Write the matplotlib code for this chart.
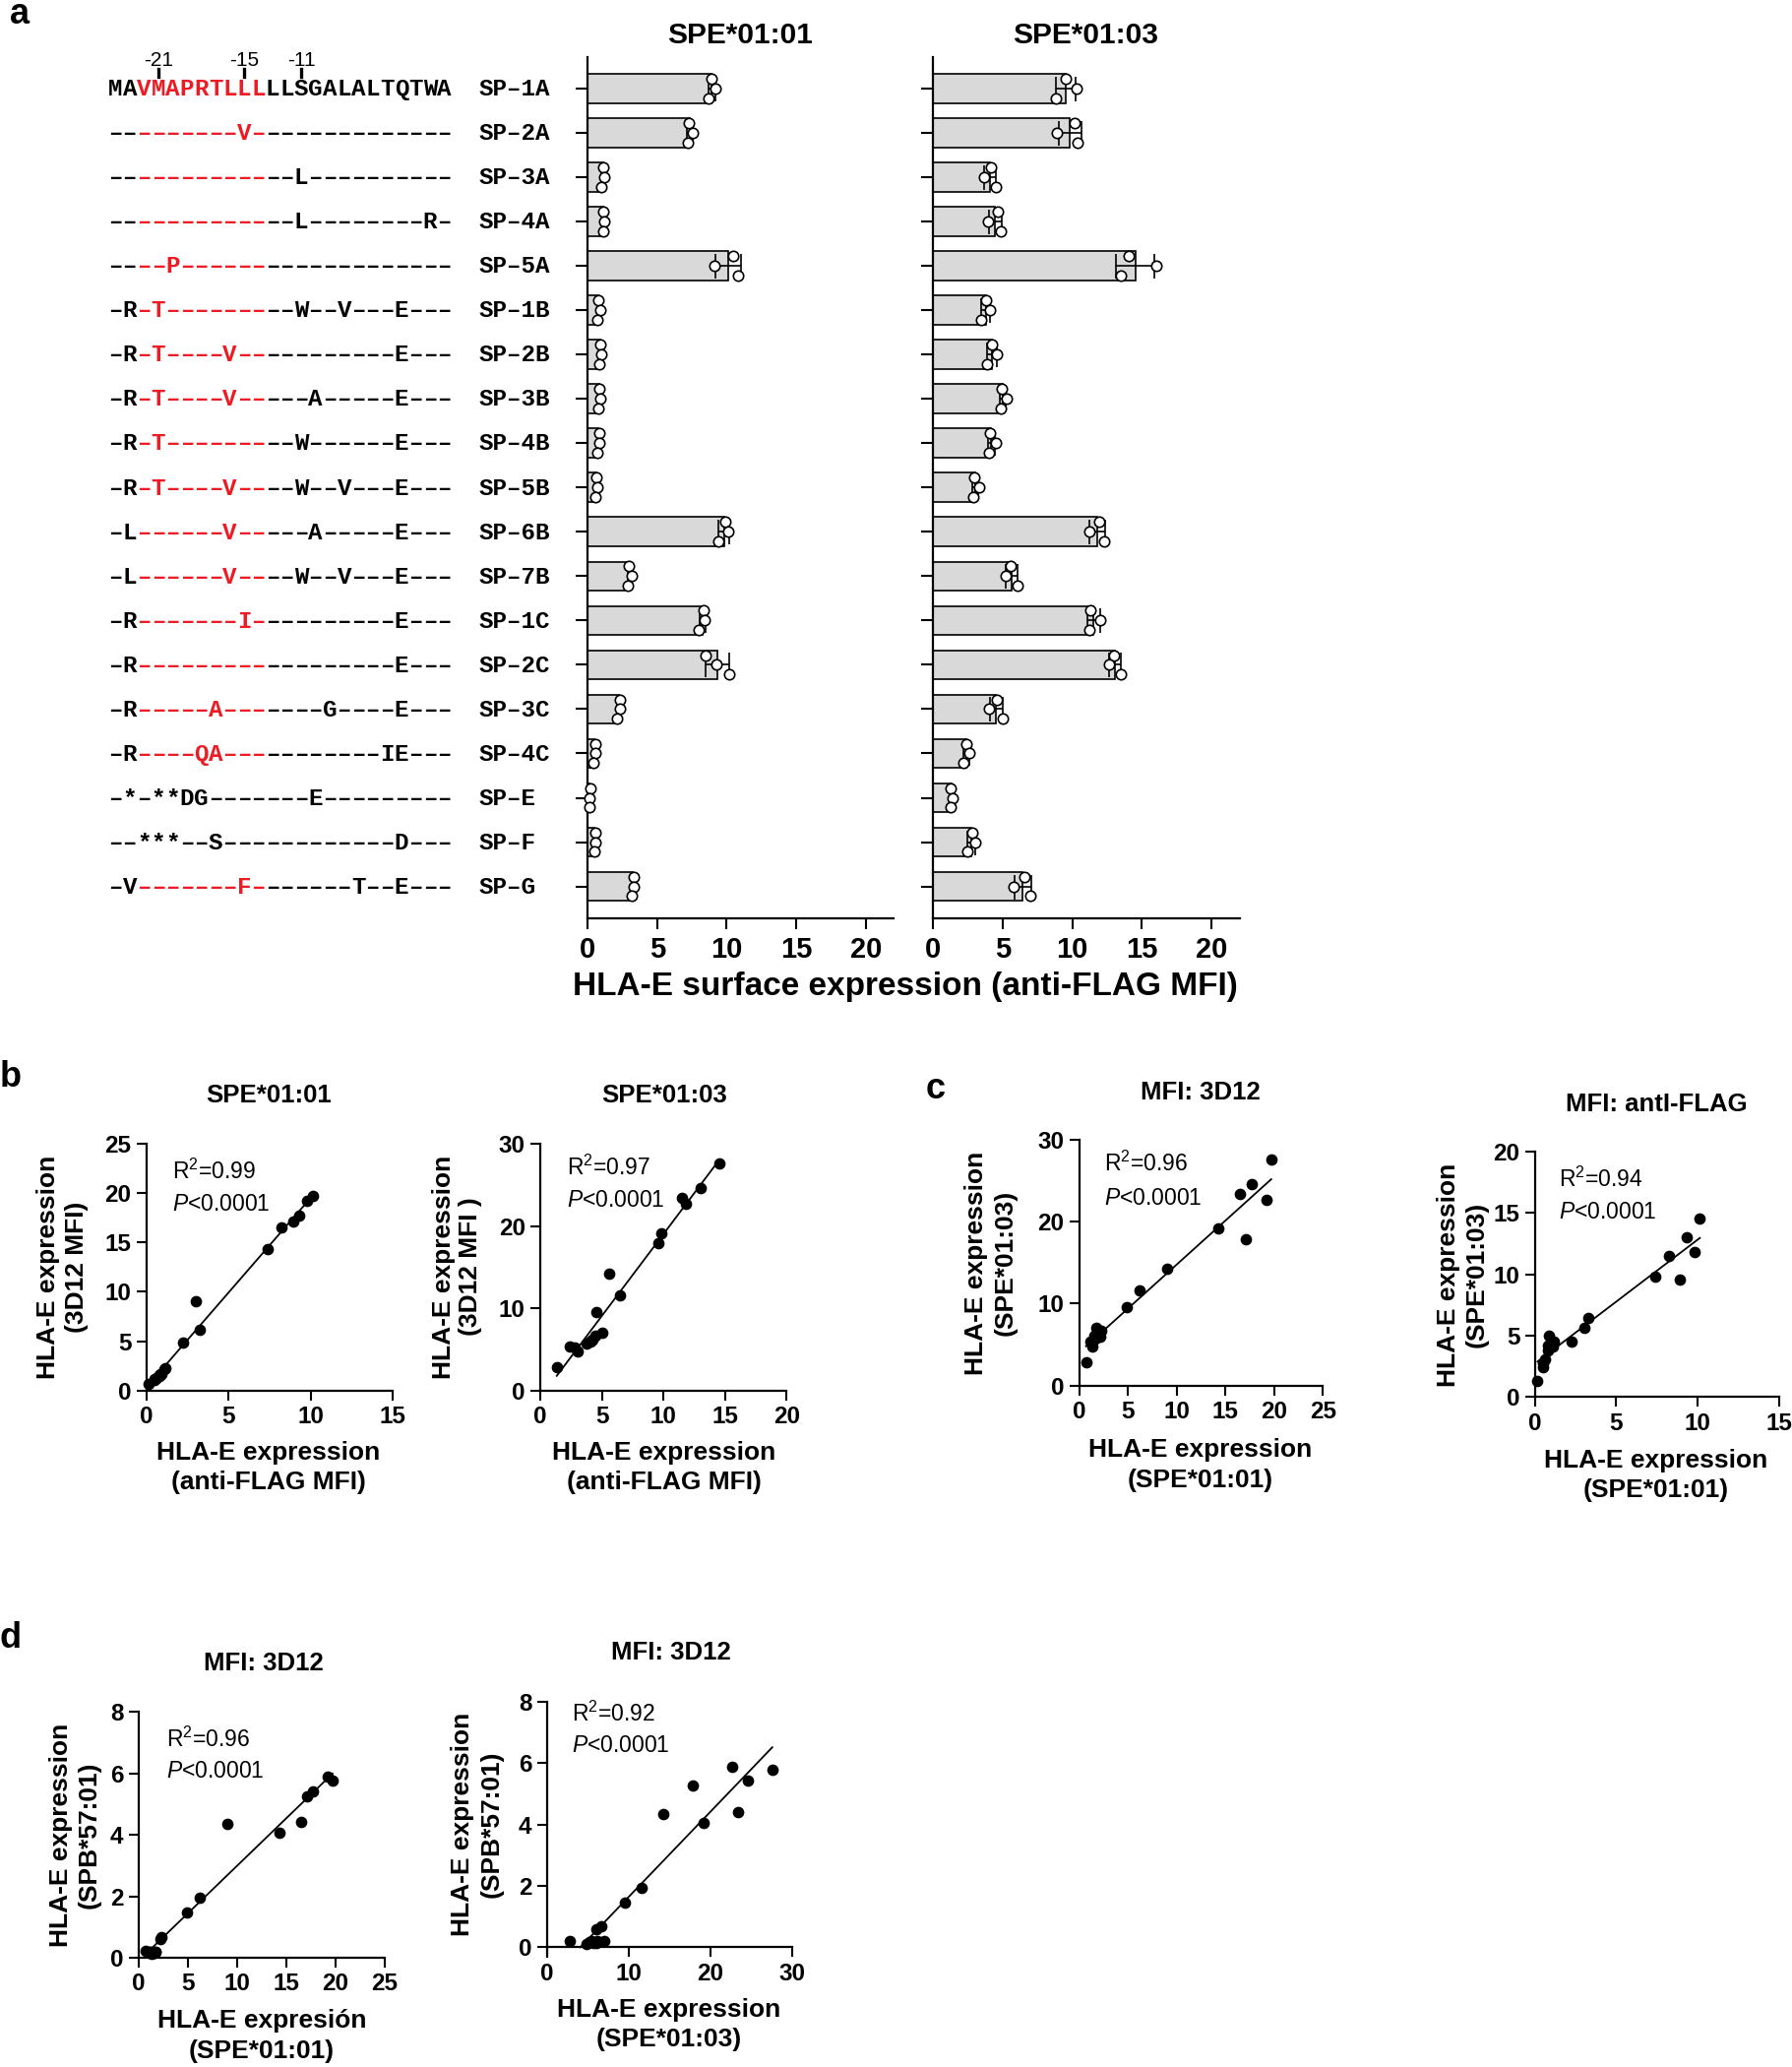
import matplotlib
matplotlib.use('Agg')
import matplotlib.pyplot as plt
import numpy as np

plt.rcParams['font.family'] = ['Liberation Sans', 'DejaVu Sans']
plt.rcParams['mathtext.fontset'] = 'custom'
plt.rcParams['mathtext.rm'] = 'Liberation Sans'
plt.rcParams['mathtext.it'] = 'Liberation Sans:italic'
plt.rcParams['mathtext.bf'] = 'Liberation Sans:bold'

# ---------------- data ----------------
constructs = ['SP–1A', 'SP–2A', 'SP–3A', 'SP–4A', 'SP–5A', 'SP–1B', 'SP–2B', 'SP–3B',
              'SP–4B', 'SP–5B', 'SP–6B', 'SP–7B', 'SP–1C', 'SP–2C', 'SP–3C', 'SP–4C',
              'SP–E', 'SP–F', 'SP–G']

sequences = [
    'MAVMAPRTLLLLLSGALALTQTWA',
    '---------V--------------',
    '-------------L----------',
    '-------------L--------R-',
    '----P-------------------',
    '-R-T---------W--V---E---',
    '-R-T----V-----------E---',
    '-R-T----V-----A-----E---',
    '-R-T---------W------E---',
    '-R-T----V----W--V---E---',
    '-L------V-----A-----E---',
    '-L------V----W--V---E---',
    '-R-------I----------E---',
    '-R------------------E---',
    '-R-----A-------G----E---',
    '-R----QA-----------IE---',
    '-*-**DG-------E---------',
    '--***--S------------D---',
    '-V-------F-------T--E---',
]
red_region = [True] * 16 + [False, False, True]
position_marks = ['-21', '-15', '-11']
position_index = [3, 9, 13]

# anti-FLAG MFI, SPE*01:01 (bar means and three replicates)
flag_0101_mean = [8.93, 7.37, 1.10, 1.15, 10.13, 0.80, 0.93, 0.84, 0.80, 0.65,
                  9.80, 3.03, 8.25, 9.32, 2.25, 0.52, 0.17, 0.53, 3.28]
flag_0101_reps = [[8.9, 9.2, 8.7], [7.3, 7.6, 7.2], [1.1, 1.2, 1.0], [1.15, 1.2, 1.1],
                  [10.5, 9.1, 10.8], [0.8, 0.9, 0.7], [0.95, 1.0, 0.85], [0.82, 0.94, 0.75],
                  [0.82, 0.87, 0.7], [0.66, 0.7, 0.59], [9.9, 10.1, 9.4], [3.0, 3.2, 2.9],
                  [8.35, 8.4, 8.0], [8.47, 9.3, 10.2], [2.3, 2.35, 2.1], [0.55, 0.55, 0.45],
                  [0.2, 0.15, 0.15], [0.55, 0.55, 0.48], [3.3, 3.35, 3.2]]
# anti-FLAG MFI, SPE*01:03
flag_0103_mean = [9.55, 9.83, 4.11, 4.48, 14.52, 3.78, 4.22, 5.02, 4.19, 3.05,
                  11.80, 5.62, 11.52, 13.04, 4.55, 2.40, 1.34, 2.76, 6.45]
flag_0103_reps = [[9.5, 10.3, 8.86], [10.2, 8.9, 10.4], [4.18, 3.66, 4.49], [4.65, 3.94, 4.84],
                  [14.05, 16.06, 13.46], [3.78, 4.08, 3.49], [4.25, 4.56, 3.85], [4.96, 5.27, 4.84],
                  [4.08, 4.49, 4.01], [2.95, 3.31, 2.88], [11.92, 11.2, 12.28], [5.55, 5.24, 6.07],
                  [11.29, 12.04, 11.22], [13.03, 12.63, 13.46], [4.6, 4.06, 5.0], [2.43, 2.6, 2.17],
                  [1.3, 1.42, 1.3], [2.79, 3.02, 2.48], [6.54, 5.79, 7.01]]
# 3D12 MFI
d12_0101 = [17.1, 14.3, 2.2, 2.3, 19.7, 1.6, 1.7, 1.7, 1.5, 1.3,
            19.2, 9.0, 16.5, 17.7, 4.9, 1.1, 0.7, 1.2, 6.2]
d12_0103 = [17.9, 19.15, 6.0, 6.7, 27.6, 5.7, 6.2, 7.0, 6.1, 4.8,
            22.7, 14.2, 23.4, 24.6, 9.6, 5.4, 2.8, 5.2, 11.6]
d12_spb5701 = [5.26, 4.06, 0.60, 0.67, 5.78, 0.15, 0.20, 0.20, 0.15, 0.12,
               5.88, 4.35, 4.42, 5.42, 1.46, 0.20, 0.21, 0.18, 1.95]

stats_text = {'b1': ('0.99', '0.0001'), 'b2': ('0.97', '0.0001'),
              'c1': ('0.96', '0.0001'), 'c2': ('0.94', '0.0001'),
              'd1': ('0.96', '0.0001'), 'd2': ('0.92', '0.0001')}

# ---------------- figure ----------------
W, H = 1821, 2100
fig = plt.figure(figsize=(W / 100, H / 100), dpi=100)


def rect(l, t, r, b):
    return [l / W, 1 - b / H, (r - l) / W, (b - t) / H]


def ftext(x, y, s, **kw):
    fig.text(x / W, 1 - y / H, s, **kw)


RED = '#ED1C24'
n = len(constructs)
rows = np.arange(n)
YL = (n - 1 + 0.72, -0.72)
TOP, BOT = 57.6, 933

# sequence alignment area
sax = fig.add_axes(rect(0, TOP, 597, BOT))
sax.set_xlim(0, 597)
sax.set_ylim(*YL)
sax.axis('off')
CW = 14.53
X0 = 117.3
for r, s in enumerate(sequences):
    for i, ch in enumerate(s):
        col = RED if (red_region[r] and 2 <= i <= 10) else 'black'
        shown = '–' if ch == '-' else ch
        sax.text(X0 + CW * i, r + 0.16, shown, ha='center', va='baseline',
                 family='Liberation Mono', weight='bold', size=17.4, color=col)
    sax.text(486.7, r + 0.16, constructs[r], ha='left', va='baseline',
             family='Liberation Mono', weight='bold', size=17.4, color='black')
for lab, idx in zip(position_marks, position_index):
    x = X0 + CW * idx
    sax.text(x, -0.52, lab, ha='center', va='baseline', size=15, clip_on=False)
    sax.plot([x, x], [-0.45, -0.26], color='black', lw=2.4, clip_on=False)

offs = np.array([-0.22, 0.0, 0.22])


def bar_panel(axrect, means, reps, title, tcx):
    ax = fig.add_axes(rect(*axrect))
    ax.barh(rows, means, height=0.66, color='#d9d9d9', edgecolor='black', linewidth=1.2, zorder=2)
    reps_a = np.array(reps)
    sd = reps_a.std(axis=1, ddof=1)
    ax.errorbar(means, rows, xerr=sd, fmt='none', ecolor='black', elinewidth=1.2,
                capsize=9, capthick=1.2, zorder=3)
    for r in rows:
        ax.plot(reps_a[r], r + offs, 'o', ms=7.5, mfc='white', mec='black', mew=1.2, zorder=4,
                clip_on=False)
    ax.set_ylim(*YL)
    ax.set_xlim(0, 22)
    ax.set_xticks([0, 5, 10, 15, 20])
    ax.set_yticks(rows)
    ax.set_yticklabels([])
    for sp in ['top', 'right']:
        ax.spines[sp].set_visible(False)
    for sp in ['left', 'bottom']:
        ax.spines[sp].set_linewidth(1.6)
    ax.tick_params(axis='y', length=9, width=1.5, direction='out')
    ax.tick_params(axis='x', length=8, width=1.5, direction='out', labelsize=21, pad=5)
    for t in ax.get_xticklabels():
        t.set_fontweight('bold')
    ftext(tcx, 36, title, ha='center', va='center', weight='bold', size=21.5)
    return ax


bar_panel((597, TOP, 908, BOT), flag_0101_mean, flag_0101_reps, 'SPE*01:01', 752)
bar_panel((948, TOP, 1259.5, BOT), flag_0103_mean, flag_0103_reps, 'SPE*01:03', 1103)
ftext(920, 1002, 'HLA-E surface expression (anti-FLAG MFI)', ha='center', va='center',
      weight='bold', size=24)

# panel letters
ftext(20, 15, 'a', ha='center', va='center', weight='bold', size=26)
ftext(11, 1094, 'b', ha='center', va='center', weight='bold', size=26)
ftext(951, 1106, 'c', ha='center', va='center', weight='bold', size=26)
ftext(11, 1664, 'd', ha='center', va='center', weight='bold', size=26)


def scatter_panel(axrect, x, y, xlim, xticks, ylim, yticks, title, txy, stats, sxy, sdy,
                  xlab, xlxy, ylab, ylx, yly, zero_spine=False):
    ax = fig.add_axes(rect(*axrect))
    x = np.asarray(x)
    y = np.asarray(y)
    m, b = np.polyfit(x, y, 1)
    xs = np.array([x.min(), x.max()])
    if zero_spine:
        xs[0] = max(xs[0], -b / m)
    ax.plot(xs, m * xs + b, color='black', lw=1.3, zorder=2)
    ax.scatter(x, y, s=55, color='black', zorder=3, clip_on=False)
    ax.set_xlim(*xlim)
    ax.set_ylim(*ylim)
    ax.set_xticks(xticks)
    ax.set_yticks(yticks)
    for sp in ['top', 'right']:
        ax.spines[sp].set_visible(False)
    for sp in ['left', 'bottom']:
        ax.spines[sp].set_linewidth(1.6)
    if zero_spine:
        ax.spines['bottom'].set_position(('data', 0))
    ax.tick_params(length=7, width=1.5, direction='out', labelsize=17.5, pad=4)
    for t in ax.get_xticklabels() + ax.get_yticklabels():
        t.set_fontweight('bold')
    ftext(txy[0], txy[1], title, ha='center', va='center', weight='bold', size=18.5)
    ftext(sxy[0], sxy[1], 'R$^2$=' + stats[0], ha='left', va='center', size=16.5)
    ftext(sxy[0], sxy[1] + sdy, r'$\mathit{P}$<' + stats[1], ha='left', va='center', size=16.5)
    ftext(xlxy[0], xlxy[1], xlab[0], ha='center', va='center', weight='bold', size=19)
    ftext(xlxy[0], xlxy[1] + 30.5, xlab[1], ha='center', va='center', weight='bold', size=19)
    ftext(ylx[0], yly, ylab[0], ha='center', va='center', weight='bold', size=19, rotation=90)
    ftext(ylx[1], yly, ylab[1], ha='center', va='center', weight='bold', size=19, rotation=90)
    return ax


# panel b
scatter_panel((148.6, 1162.3, 399, 1412.6), flag_0101_mean, d12_0101, (0, 15), [0, 5, 10, 15],
              (0, 25), [0, 5, 10, 15, 20, 25], 'SPE*01:01', (273, 1113), stats_text['b1'],
              (175, 1190), 34, ('HLA-E expression', '(anti-FLAG MFI)'), (273, 1476),
              ('HLA-E expression', '(3D12 MFI)'), (49.5, 77.7), 1287)
scatter_panel((549, 1162.3, 799.4, 1412.6), flag_0103_mean, d12_0103, (0, 20), [0, 5, 10, 15, 20],
              (0, 30), [0, 10, 20, 30], 'SPE*01:03', (675, 1113), stats_text['b2'],
              (576, 1186), 34, ('HLA-E expression', '(anti-FLAG MFI)'), (675, 1476),
              ('HLA-E expression', '(3D12 MFI )'), (451, 478), 1287)
# panel c
scatter_panel((1096.7, 1157.7, 1344.3, 1407.7), d12_0101, d12_0103, (0, 25), [0, 5, 10, 15, 20, 25],
              (0, 30), [0, 10, 20, 30], 'MFI: 3D12', (1220, 1110), stats_text['c1'],
              (1122, 1182), 35, ('HLA-E expression', '(SPE*01:01)'), (1220, 1473),
              ('HLA-E expression', '(SPE*01:03)'), (992, 1022), 1283)
scatter_panel((1559.6, 1170, 1808, 1419.3), flag_0101_mean, flag_0103_mean, (0, 15), [0, 5, 10, 15],
              (0, 20), [0, 5, 10, 15, 20], 'MFI: antI-FLAG', (1683, 1122), stats_text['c2'],
              (1584, 1198), 34, ('HLA-E expression', '(SPE*01:01)'), (1683, 1484),
              ('HLA-E expression', '(SPE*01:03)'), (1471.5, 1501), 1295)
# panel d
scatter_panel((140.6, 1739.3, 391, 1989), d12_0101, d12_spb5701, (0, 25), [0, 5, 10, 15, 20, 25],
              (0, 8), [0, 2, 4, 6, 8], 'MFI: 3D12', (268, 1690), stats_text['d1'],
              (168.7, 1767), 33, ('HLA-E expresión', '(SPE*01:01)'), (266, 2053),
              ('HLA-E expression', '(SPB*57:01)'), (61.6, 91), 1864)
scatter_panel((555.7, 1729, 804.7, 1987.7), d12_0103, d12_spb5701, (0, 30), [0, 10, 20, 30],
              (-0.3, 8), [0, 2, 4, 6, 8], 'MFI: 3D12', (681.5, 1679), stats_text['d2'],
              (581, 1741), 33, ('HLA-E expression', '(SPE*01:03)'), (680, 2042),
              ('HLA-E expression', '(SPB*57:01)'), (470, 499.5), 1853, zero_spine=True)

fig.savefig('out.png', dpi=100, facecolor='white')
